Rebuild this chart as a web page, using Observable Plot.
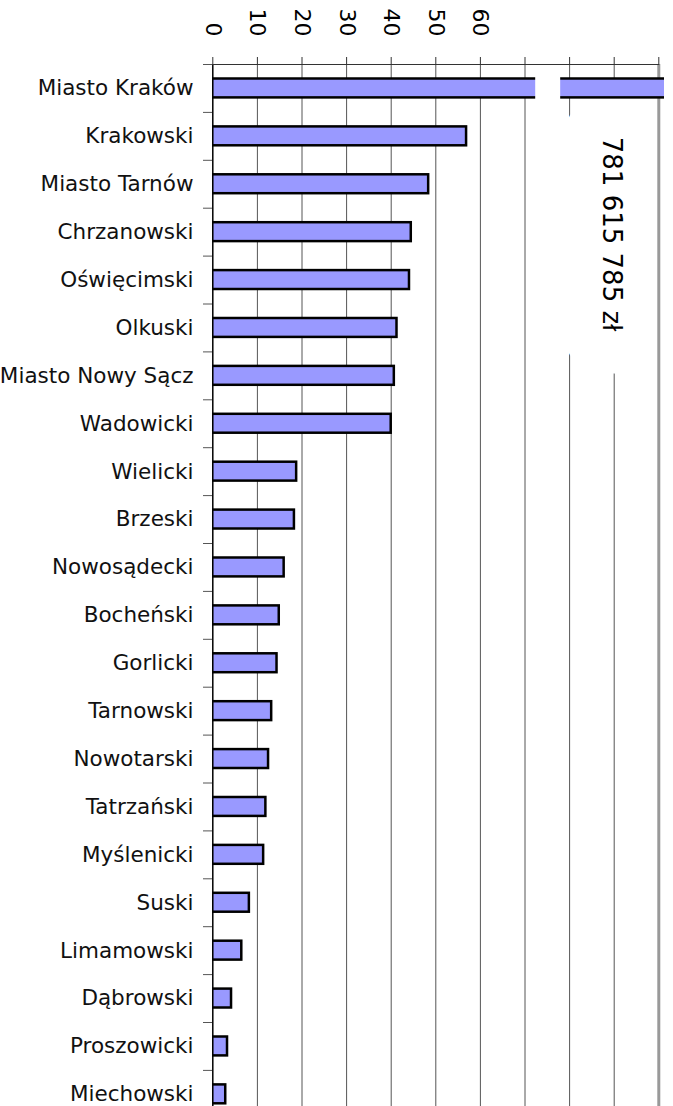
<!DOCTYPE html>
<html>
<head>
<meta charset="utf-8">
<script src="https://cdn.jsdelivr.net/npm/d3@7"></script>
<script src="https://cdn.jsdelivr.net/npm/@observablehq/plot@0.6"></script>
<style>
html, body { margin: 0; padding: 0; background: #fff; overflow: hidden; }
</style>
</head>
<body>
<div id="chart"></div>
<script>
// Districts (powiaty) of Małopolska, top to bottom
const districts = [
  "Miasto Kraków", "Krakowski", "Miasto Tarnów", "Chrzanowski", "Oświęcimski",
  "Olkuski", "Miasto Nowy Sącz", "Wadowicki", "Wielicki", "Brzeski",
  "Nowosądecki", "Bocheński", "Gorlicki", "Tarnowski", "Nowotarski",
  "Tatrzański", "Myślenicki", "Suski", "Limamowski", "Dąbrowski",
  "Proszowicki", "Miechowski"
];
// values in millions of zł
const values = [
  781.615785, 56.9, 48.4, 44.5, 44.1,
  41.3, 40.7, 40.0, 18.8, 18.3,
  16.0, 14.9, 14.4, 13.2, 12.5,
  11.9, 11.4, 8.2, 6.5, 4.2,
  3.3, 2.9
];
const krakowLabel = "781 615 785 zł";
const labelPlacement = [{text: krakowLabel, x: 89.4, district: "Chrzanowski"}];
const axisBreak = [{district: "Miasto Kraków", from: 72.4, to: 78.0}];
const tickValues = [0, 10, 20, 30, 40, 50, 60, 70, 80, 90, 100];
const gridValues = [10, 20, 30, 40, 50, 60, 70, 80, 90];
const tickLabels = [0, 10, 20, 30, 40, 50, 60];

const rows = districts.map((d, i) => ({district: d, value: values[i]}));

const step = 47.9;
const plot = Plot.plot({
  width: 673,
  height: 1106,
  marginLeft: 212,
  marginRight: 9,
  marginTop: 64,
  marginBottom: 0,
  style: {fontFamily: "DejaVu Sans", background: "white", color: "black", overflow: "hidden"},
  x: {domain: [0, 100], range: [212.3, 658.3], axis: null},
  y: {domain: districts, range: [64, 64 + districts.length * step], padding: 0, round: false, axis: null},
  marks: [
    Plot.ruleX(gridValues, {stroke: "#555", strokeWidth: 1}),
    Plot.text(labelPlacement, {
      x: "x", y: "district", text: "text", rotate: 90, dy: 2,
      fontSize: 26, fill: "black", stroke: "white", strokeWidth: 84,
      paintOrder: "stroke", strokeLinejoin: "round",
      textAnchor: "middle", lineAnchor: "middle"
    }),
    Plot.ruleX([100], {stroke: "#999", strokeWidth: 3}),
    Plot.ruleX([0], {stroke: "black", strokeWidth: 1.5}),
    Plot.barX(rows, {
      x: "value", y: "district", fill: "#9999ff", stroke: "black",
      strokeWidth: 2.5, insetTop: 14.5, insetBottom: 14.5, clip: true
    }),
    Plot.barX(axisBreak, {
      x1: "from", x2: "to", y: "district", fill: "white",
      insetTop: 11, insetBottom: 11
    }),
    Plot.frame({anchor: "top", stroke: "#333", insetRight: 6}),
    Plot.axisX(tickValues, {anchor: "top", tickSize: 8, stroke: "#333", fill: "none"}),
    Plot.axisY({tickSize: 9, stroke: "#555", fill: "none", dy: -step / 2}),
    Plot.axisY({tickSize: 0, tickPadding: 19, fontSize: 21.5, fill: "#111", label: null}),
    Plot.text(tickLabels, {
      x: d => d, frameAnchor: "top", dy: -28, rotate: 90,
      textAnchor: "end", lineAnchor: "middle", fontSize: 22, fill: "black"
    })
  ]
});
document.getElementById("chart").appendChild(plot);
</script>
</body>
</html>
